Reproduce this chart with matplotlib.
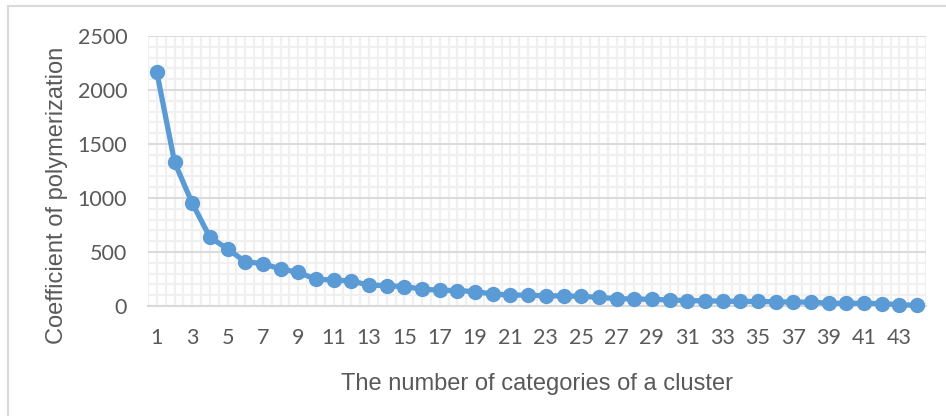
import matplotlib

matplotlib.use('Agg')
from matplotlib import pyplot as plt
from matplotlib.patches import Rectangle
from matplotlib.ticker import MultipleLocator

# cluster count vs coefficient of polymerization
categories = list(range(1, 45))
coef = [2165, 1333, 952, 638, 528, 410, 392, 343, 312, 247,
        241, 231, 194, 189, 179, 157, 145, 143, 133, 111,
        102, 100, 95, 93, 90, 80, 68, 65, 62, 56,
        50, 48, 45, 42, 42, 39, 36, 36, 25, 25,
        25, 22, 12, 6]
tick_labels = [str(c) for c in categories[::2]]

line_color = '#5b9bd5'
text_color = '#595959'

fig = plt.figure(figsize=(9.46, 4.16), dpi=100)
fig.patch.set_facecolor('white')

# light chart border, runs off the right and bottom edges
fig.patches.append(Rectangle((8 / 946, -0.05), 1.2, 1 - 6 / 416 + 0.05,
                             transform=fig.transFigure, fill=False,
                             edgecolor='#d9d9d9', linewidth=1.5))

ax = fig.add_axes([148 / 946, 1 - 306 / 416, 778 / 946, 270 / 416])

ax.plot(categories, coef, color=line_color, linewidth=3.8, marker='o',
        markersize=10, markerfacecolor=line_color, markeredgecolor=line_color,
        zorder=3, clip_on=False)

ax.set_xlim(0.5, 44.5)
ax.set_ylim(0, 2500)
ax.set_xticks(categories[::2])
ax.set_xticklabels(tick_labels)
ax.yaxis.set_major_locator(MultipleLocator(500))

ax.grid(False)
ax.hlines(range(0, 2501, 100), 0.5, 44.5, color='#f0f0f0', linewidth=1.6, zorder=0)
ax.vlines([0.5 + 0.5 * i for i in range(89)], 0, 2500, color='#f0f0f0', linewidth=1.6, zorder=0)
ax.hlines(range(500, 2501, 500), 0.5, 44.5, color='#d9d9d9', linewidth=1.3, zorder=1)

for s in ['top', 'right', 'left']:
    ax.spines[s].set_visible(False)
ax.spines['bottom'].set_color('#d9d9d9')
ax.spines['bottom'].set_linewidth(1.5)

ax.tick_params(which='both', length=0)
ax.tick_params(axis='x', pad=16, labelsize=15.5, labelcolor=text_color)
ax.tick_params(axis='y', pad=15, labelsize=15.5, labelcolor=text_color)
for lab in ax.get_xticklabels() + ax.get_yticklabels():
    lab.set_fontfamily('Lato')

ax.set_xlabel('The number of categories of a cluster', fontsize=17,
              color=text_color, fontfamily='Liberation Sans')
ax.xaxis.set_label_coords(0.5, -0.248)
ax.set_ylabel('Coefficient of polymerization', fontsize=17,
              color=text_color, fontfamily='Liberation Sans', va='center')
ax.yaxis.set_label_coords(-0.117, 0.411)

plt.savefig('out.png', dpi=100)
plt.close('all')
